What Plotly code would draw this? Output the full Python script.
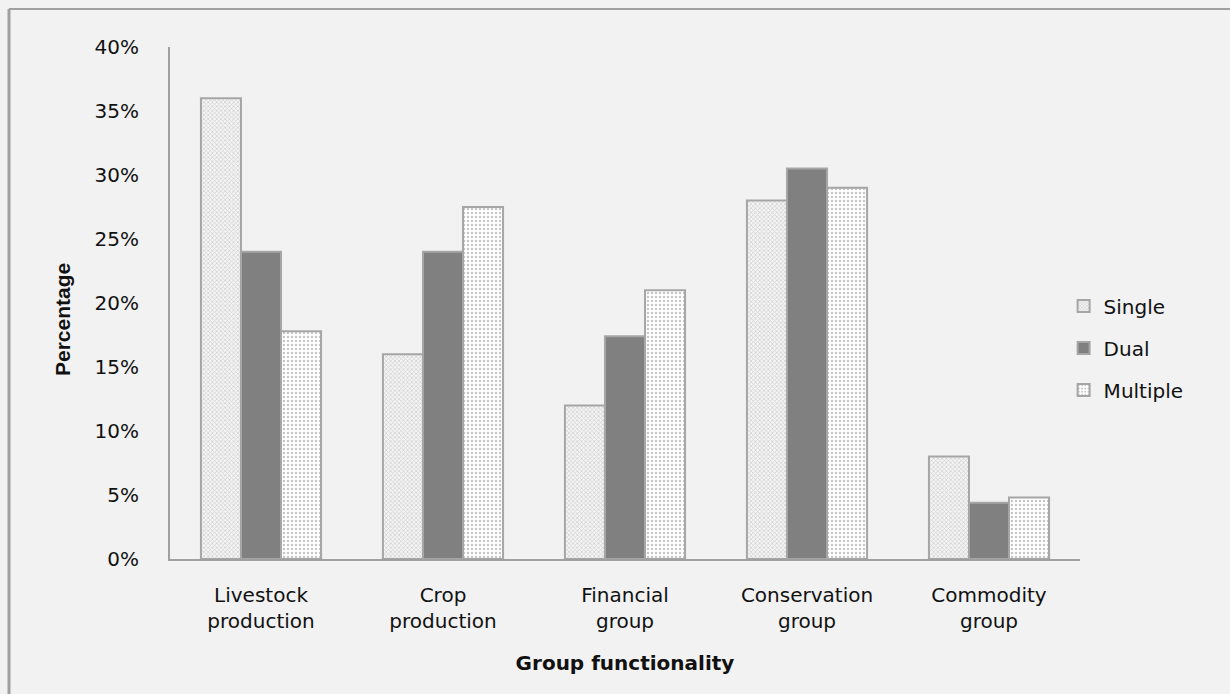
import plotly.graph_objects as go

categories = ["Livestock<br>production", "Crop<br>production", "Financial<br>group",
              "Conservation<br>group", "Commodity<br>group"]
single = [0.36, 0.16, 0.12, 0.28, 0.08]
dual = [0.24, 0.24, 0.174, 0.305, 0.044]
multiple = [0.178, 0.275, 0.21, 0.29, 0.048]
y_ticks = [0, 0.05, 0.10, 0.15, 0.20, 0.25, 0.30, 0.35, 0.40]
y_tick_labels = ["0%", "5%", "10%", "15%", "20%", "25%", "30%", "35%", "40%"]

FONT = "DejaVu Sans"
EDGE = "#a6a6a6"

fig = go.Figure()
fig.add_trace(go.Bar(
    name="Single", x=categories, y=single, legendgroup="s",
    marker=dict(color="#f4f4f4", line=dict(color=EDGE, width=2),
                pattern=dict(shape="x", size=3, solidity=0.4,
                             fgcolor="#a8a8a8", bgcolor="#f4f4f4")),
))
fig.add_trace(go.Bar(
    name="Dual", x=categories, y=dual, legendgroup="d",
    marker=dict(color="#808080", line=dict(color=EDGE, width=2)),
))
fig.add_trace(go.Bar(
    name="Multiple", x=categories, y=multiple, legendgroup="m",
    marker=dict(color="#ffffff", line=dict(color=EDGE, width=2),
                pattern=dict(shape=".", size=4, solidity=0.3,
                             fgcolor="#8c8c8c", bgcolor="#ffffff")),
))

fig.update_layout(
    width=1230, height=694,
    margin=dict(l=170, r=150, t=47, b=135),
    paper_bgcolor="#f2f2f2", plot_bgcolor="#f2f2f2",
    barmode="group", bargap=0.34, bargroupgap=0,
    font=dict(family=FONT, size=20, color="#111111"),
    showlegend=True,
    legend=dict(x=0.982, xanchor="left", y=0.412, yanchor="middle",
                bgcolor="rgba(0,0,0,0)", tracegroupgap=13,
                font=dict(family=FONT, size=20, color="#111111")),
    xaxis=dict(showgrid=False, showline=True, linecolor="#a0a0a0", linewidth=2,
               ticks="", tickfont=dict(family=FONT, size=20),
               ticklabelstandoff=17,
               title=dict(text="<b>Group functionality</b>",
                          font=dict(family=FONT, size=20), standoff=24)),
    yaxis=dict(range=[0, 0.40], tickvals=y_ticks, ticktext=y_tick_labels,
               showgrid=False, zeroline=False, showline=True,
               linecolor="#a0a0a0", linewidth=2, ticks="",
               ticklabelstandoff=25, tickfont=dict(family=FONT, size=20)),
    annotations=[
        dict(text="<b>Percentage</b>", xref="paper", yref="paper",
             x=(62 - 170) / 910, y=(559 - 320) / 512,
             xanchor="center", yanchor="middle", textangle=-90, showarrow=False,
             font=dict(family="Liberation Sans", size=21, color="#111111")),
    ],
    shapes=[
        dict(type="line", xref="paper", yref="paper",
             x0=(9 - 170) / 910, x1=(1230 - 170) / 910,
             y0=(559 - 9) / 512, y1=(559 - 9) / 512,
             line=dict(color="#a0a0a0", width=2)),
        dict(type="line", xref="paper", yref="paper",
             x0=(9 - 170) / 910, x1=(9 - 170) / 910,
             y0=(559 - 9) / 512, y1=(559 - 694) / 512,
             line=dict(color="#a0a0a0", width=3)),
    ],
)

fig.write_html("out.html")
